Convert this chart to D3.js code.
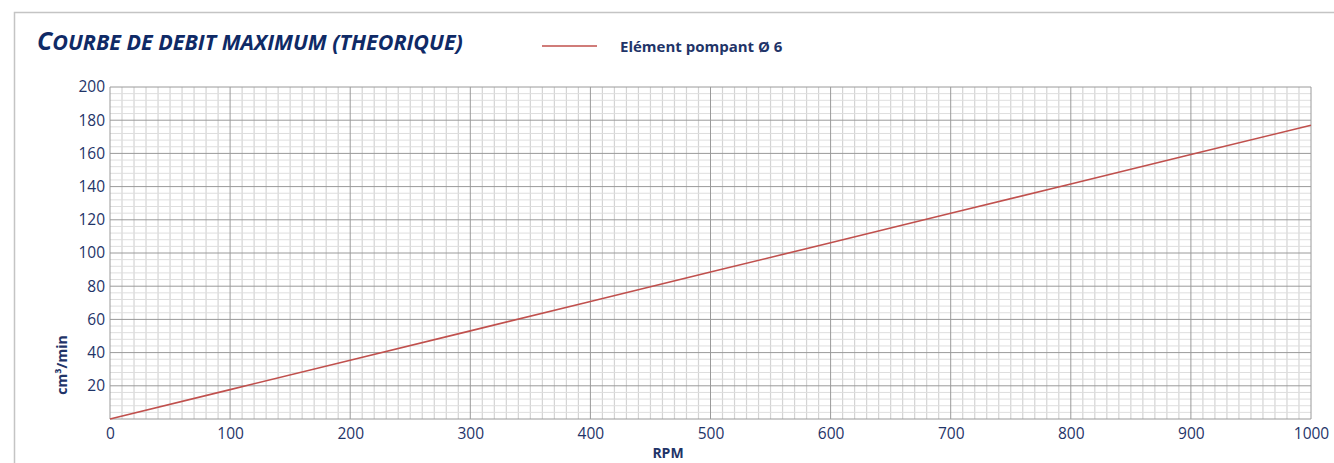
<!DOCTYPE html>
<html>
<head>
<meta charset="utf-8">
<script src="https://cdn.jsdelivr.net/npm/d3@7"></script>
<style>
  body { margin: 0; background: #fff; }
  svg text { font-family: "Open Sans", "Noto Sans", sans-serif; fill: #1f3468; }
</style>
</head>
<body>
<svg id="chart" width="1334" height="463"></svg>
<script>
// data
const rpm = [0, 100, 200, 300, 400, 500, 600, 700, 800, 900, 1000];
const debit = [0, 17.7, 35.4, 53.1, 70.8, 88.5, 106.2, 123.9, 141.6, 159.3, 177];
const xTicks = [0, 100, 200, 300, 400, 500, 600, 700, 800, 900, 1000];
const yTicks = [20, 40, 60, 80, 100, 120, 140, 160, 180, 200];
const seriesName = "Elément pompant Ø 6";
const title = "COURBE DE DEBIT MAXIMUM (THEORIQUE)";

const svg = d3.select("#chart");
const margin = { left: 110, right: 23, top: 87, bottom: 44 };
const width = 1334, height = 463;

const x = d3.scaleLinear().domain([0, 1000]).range([margin.left, width - margin.right]);
const y = d3.scaleLinear().domain([0, 200]).range([height - margin.bottom, margin.top]);

// outer frame
svg.append("path")
  .attr("d", `M14.5,${height} V12.5 H${width}`)
  .attr("fill", "none")
  .attr("stroke", "#c4c4c4")
  .attr("stroke-width", 1.5);

// minor grid
const g = svg.append("g");
g.selectAll("line.minx")
  .data(d3.range(0, 1001, 10).filter(d => d % 100 !== 0))
  .enter().append("line")
  .attr("x1", d => x(d)).attr("x2", d => x(d))
  .attr("y1", y(0)).attr("y2", y(200))
  .attr("stroke", "#d4d4d4").attr("stroke-width", 1.2);
g.selectAll("line.miny")
  .data(d3.range(0, 201, 4).filter(d => d % 20 !== 0))
  .enter().append("line")
  .attr("x1", x(0)).attr("x2", x(1000))
  .attr("y1", d => y(d)).attr("y2", d => y(d))
  .attr("stroke", "#dedede").attr("stroke-width", 1);

// major grid
g.selectAll("line.majx")
  .data(xTicks)
  .enter().append("line")
  .attr("x1", d => x(d)).attr("x2", d => x(d))
  .attr("y1", y(0)).attr("y2", y(200))
  .attr("stroke", "#9a9a9a").attr("stroke-width", 1);
g.selectAll("line.majy")
  .data([0].concat(yTicks))
  .enter().append("line")
  .attr("x1", x(0)).attr("x2", x(1000))
  .attr("y1", d => y(d)).attr("y2", d => y(d))
  .attr("stroke", "#9a9a9a").attr("stroke-width", 1);

// axes
const xAxis = svg.append("g")
  .attr("transform", `translate(0,${y(0)})`)
  .call(d3.axisBottom(x).tickValues(xTicks).tickFormat(d3.format("d")).tickSize(0).tickPadding(9));
const yAxis = svg.append("g")
  .attr("transform", `translate(${x(0)},0)`)
  .call(d3.axisLeft(y).tickValues(yTicks).tickFormat(d3.format("d")).tickSize(0).tickPadding(5));
[xAxis, yAxis].forEach(a => {
  a.select(".domain").remove();
  a.selectAll("text").attr("font-size", 15.5).style("fill", "#1f3468")
    .attr("font-family", "'Open Sans', sans-serif");
});

// series
const line = d3.line().x((d, i) => x(rpm[i])).y(d => y(d));
svg.append("path")
  .datum(debit)
  .attr("d", line)
  .attr("fill", "none")
  .attr("stroke", "#c0504d")
  .attr("stroke-width", 1.6);

// title: first letter larger, rest in caps
const t = svg.append("text")
  .attr("x", 37).attr("y", 50)
  .attr("font-weight", "bold")
  .attr("font-style", "italic")
  .style("fill", "#0f2a66");
t.append("tspan").attr("font-size", 25).text(title.slice(0, 1));
t.append("tspan").attr("font-size", 21.5).text(title.slice(1));

// legend
svg.append("line")
  .attr("x1", 542).attr("x2", 597)
  .attr("y1", 46).attr("y2", 46)
  .attr("stroke", "#c0504d").attr("stroke-width", 1.5);
svg.append("text")
  .attr("x", 620).attr("y", 52)
  .attr("font-size", 15)
  .attr("font-weight", "bold")
  .text(seriesName);

// axis titles
svg.append("text")
  .attr("x", 668).attr("y", 458)
  .attr("text-anchor", "middle")
  .attr("font-size", 14)
  .attr("font-weight", "bold")
  .text("RPM");
svg.append("text")
  .attr("transform", "translate(67,365) rotate(-90)")
  .attr("text-anchor", "middle")
  .attr("font-size", 14)
  .attr("font-weight", "bold")
  .text("cm³/min");
</script>
</body>
</html>
